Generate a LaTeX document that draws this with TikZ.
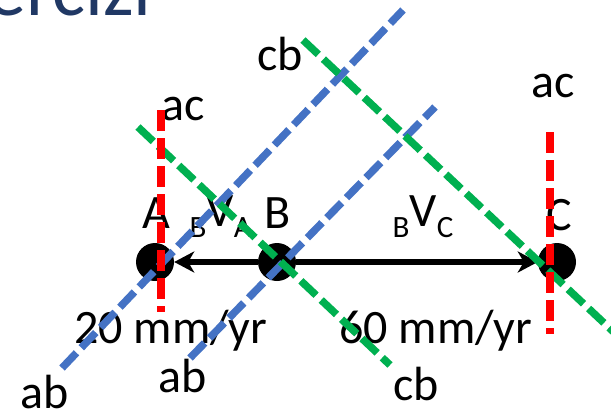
\documentclass[tikz,border=0pt]{standalone}
\usepackage{fontspec}
\setmainfont{Carlito}
\usetikzlibrary{arrows.meta}
\definecolor{obl}{HTML}{4472C4}
\definecolor{ogr}{HTML}{00B050}
\definecolor{ored}{HTML}{FF0000}
\definecolor{otitle}{HTML}{203864}
\newcommand{\subt}[1]{\raisebox{-11pt}{\fontsize{31}{31}\selectfont #1}}
\begin{document}
\begin{tikzpicture}[x=1pt,y=-1pt,
  lbl/.style={anchor=base west, inner sep=0pt, font=\fontsize{48}{48}\selectfont},
  dot/.style={circle, fill=black, minimum size=38pt, inner sep=0pt},
  dashln/.style={line width=7.5pt, dash pattern=on 21pt off 7pt},
  vel/.style={line width=6pt, -{Stealth[length=20pt,width=21pt,inset=6pt]}}]
\useasboundingbox (0,0) rectangle (611,416);
% title (partly cut)
\node[anchor=base west, inner sep=0pt, text=otitle, font=\fontsize{78}{78}\selectfont] (title) at (-13,15) {ercizi};
% points
\node[dot] (A) at (155,262) {};
\node[dot] (B) at (277,262) {};
\node[dot] (C) at (557,262) {};
% velocity arrows
\draw[vel] (B) -- (A);
\draw[vel] (B) -- (C);
% labels
\node[lbl] (lA) at (142,228) {A};
\node[lbl] (lB) at (264,228) {B};
\node[lbl] (lC) at (546,230) {C};
\node[lbl] (vBA) at (189.5,226) {\subt{B}V\subt{A}};
\node[lbl] (vBC) at (392.5,226) {\subt{B}V\subt{C}};
\node[lbl] (v20) at (74,343) {20 mm/yr};
\node[lbl] (v60) at (339,343) {60 mm/yr};
\node[lbl] (ac1) at (161,120) {ac};
\node[lbl] (ac2) at (531,97) {ac};
\node[lbl] (cb1) at (257,70) {cb};
\node[lbl] (cb2) at (393,400) {cb};
\node[lbl] (ab1) at (20,408) {ab};
\node[lbl] (ab2) at (158,392) {ab};
% loci lines
\draw[dashln, obl] (62,368) -- (403,10);
\draw[dashln, obl] (190,358) -- (435,107);
\draw[dashln, ogr] (138,127) -- (390,365);
\draw[dashln, ogr] (303,40) -- (620,338);
\draw[dashln, ored] (161,110) -- (161,312);
\draw[dashln, ored] (550,132) -- (550,334);
\end{tikzpicture}
\end{document}
